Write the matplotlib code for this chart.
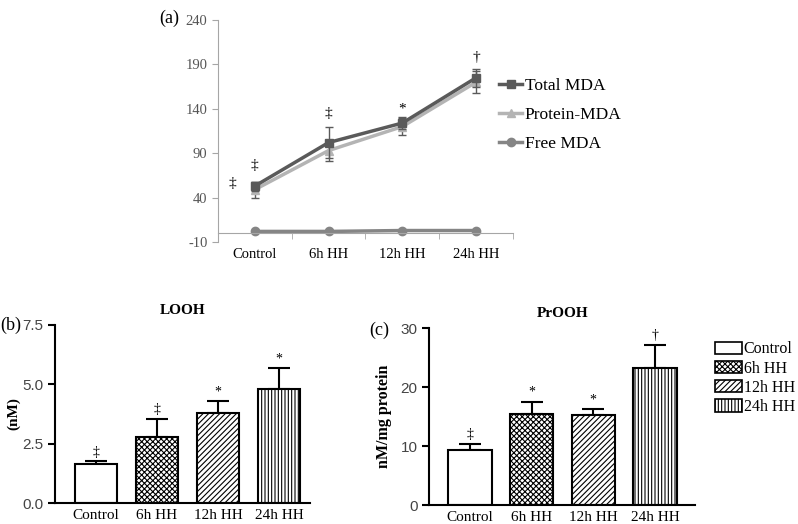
import numpy as np
import matplotlib.pyplot as plt
from matplotlib.patches import Patch
from matplotlib.lines import Line2D

plt.rcParams['font.family'] = ['Liberation Serif', 'DejaVu Serif']
plt.rcParams['hatch.linewidth'] = 0.8
plt.rcParams['axes.unicode_minus'] = False

# data
groups = ['Control', '6h HH', '12h HH', '24h HH']

total_mda = [53, 102, 124, 175]
total_err = [5, 17, 7, 10]
protein_mda = [49, 93, 120, 170]
protein_err = [9, 12, 10, 12]
free_mda = [2, 2, 3, 3]

looh = [1.65, 2.8, 3.8, 4.8]
looh_err = [0.1, 0.75, 0.48, 0.87]
looh_sig = ['‡', '‡', '*', '*']

prooh = [9.4, 15.5, 15.2, 23.2]
prooh_err = [1.0, 2.0, 1.0, 4.0]
prooh_sig = ['‡', '*', '*', '†']

hatches = ['', 'xxxxxx', '//////', '|||||']

c_total, c_prot, c_free = '#5a5a5a', '#b4b4b4', '#858585'

fig = plt.figure(figsize=(7.98, 5.24), dpi=100)

# ---- (a) line chart ----
ax1 = fig.add_axes([0.273, 0.538, 0.370, 0.424])
x = np.arange(len(groups))
ax1.errorbar(x, total_mda, yerr=total_err, color=c_total, marker='s', ms=6, lw=2.5,
             capsize=3, elinewidth=1, ecolor=c_total, zorder=3)
ax1.errorbar(x, protein_mda, yerr=protein_err, color=c_prot, marker='^', ms=6, lw=2.5,
             capsize=3, elinewidth=1, ecolor=c_total, zorder=2)
ax1.plot(x, free_mda, color=c_free, marker='o', ms=6, lw=2.5)
ax1.set_xlim(-0.5, 3.5)
ax1.set_ylim(-10, 240)
ax1.set_yticks(np.arange(-10, 241, 50))
ax1.spines['top'].set_visible(False)
ax1.spines['right'].set_visible(False)
ax1.spines['bottom'].set_position(('data', 0))
for s in ['left', 'bottom']:
    ax1.spines[s].set_color('#a6a6a6')
ax1.set_xticks(x)
ax1.set_xticklabels(groups, fontsize=10.5)
ax1.tick_params(axis='x', which='major', length=0, pad=11)
ax1.set_xticks(np.arange(0.5, 4, 1), minor=True)
ax1.tick_params(axis='x', which='minor', length=4, color='#a6a6a6')
ax1.tick_params(axis='y', length=4, color='#a6a6a6', labelcolor='#555555', labelsize=10.5)
# significance marks
ax1.text(-0.3, 52, '‡', ha='center', fontsize=11)
ax1.text(0, 72, '‡', ha='center', fontsize=11)
ax1.text(1, 131, '‡', ha='center', fontsize=11)
ax1.text(2, 136, '*', ha='center', fontsize=11)
ax1.text(3, 194, '†', ha='center', fontsize=11)
line_handles = [Line2D([], [], color=c_total, marker='s', ms=6, lw=2.5),
                Line2D([], [], color=c_prot, marker='^', ms=6, lw=2.5),
                Line2D([], [], color=c_free, marker='o', ms=6, lw=2.5)]
ax1.legend(line_handles, ['Total MDA', 'Protein-MDA', 'Free MDA'], loc='upper left',
           bbox_to_anchor=(0.93, 0.77), frameon=False, fontsize=12.5,
           handlelength=1.3, handletextpad=0.15, labelspacing=0.75, borderaxespad=0)
fig.text(0.2, 0.965, '(a)', fontsize=13, va='center')

# ---- bar helper ----
def bars(ax, vals, errs, sig, ymax, ystep, pad):
    xb = np.arange(len(vals))
    for i in range(len(vals)):
        ax.bar(xb[i], vals[i], width=0.7, color='white', edgecolor='black',
               hatch=hatches[i], linewidth=1.5, zorder=2)
    ax.errorbar(xb, vals, yerr=[np.zeros(len(errs)), errs], fmt='none', ecolor='black',
                elinewidth=1.5, capsize=8, capthick=1.5, zorder=1)
    for i in range(len(vals)):
        ax.text(xb[i], vals[i] + errs[i] + pad, sig[i], ha='center', fontsize=10)
    ax.set_ylim(0, ymax)
    ax.set_yticks(np.arange(0, ymax + 0.01, ystep))
    ax.set_xticks(xb)
    ax.set_xticklabels(groups, fontsize=11)
    ax.spines['top'].set_visible(False)
    ax.spines['right'].set_visible(False)
    for s in ['left', 'bottom']:
        ax.spines[s].set_linewidth(1.5)
    ax.tick_params(axis='x', length=0, pad=4)
    ax.tick_params(axis='y', width=1.5, length=5, labelsize=11, labelcolor='#444444')
    for t in ax.get_yticklabels():
        t.set_family(['Liberation Sans', 'DejaVu Sans'])

# ---- (b) LOOH ----
ax2 = fig.add_axes([0.069, 0.040, 0.319, 0.340])
bars(ax2, looh, looh_err, looh_sig, 7.5, 2.5, 0.25)
ax2.set_xlim(-0.67, 3.5)
ax2.set_yticklabels(['0.0', '2.5', '5.0', '7.5'])
for t in ax2.get_yticklabels():
    t.set_family(['Liberation Sans', 'DejaVu Sans'])
ax2.set_ylabel('(nM)', fontsize=11, fontweight='bold', labelpad=1)
ax2.set_title('LOOH', fontsize=11, fontweight='bold', pad=8)
fig.text(0.0, 0.38, '(b)', fontsize=13, va='center')

# ---- (c) PrOOH ----
ax3 = fig.add_axes([0.538, 0.036, 0.333, 0.338])
bars(ax3, prooh, prooh_err, prooh_sig, 30, 10, 1.0)
ax3.set_xlim(-0.66, 3.65)
ax3.set_ylabel('nM/mg protein', fontsize=11.5, fontweight='bold', labelpad=6)
ax3.set_title('PrOOH', fontsize=11, fontweight='bold', pad=8)
fig.text(0.463, 0.37, '(c)', fontsize=13, va='center')

handles = [Patch(facecolor='white', edgecolor='black', hatch=h, linewidth=1.2) for h in hatches]
ax3.legend(handles, groups, loc='upper left', bbox_to_anchor=(1.05, 0.96), frameon=False,
           fontsize=11.5, handlelength=1.7, handleheight=0.8, handletextpad=0.12,
           labelspacing=0.2, borderaxespad=0)

fig.savefig('out.png', dpi=100)
